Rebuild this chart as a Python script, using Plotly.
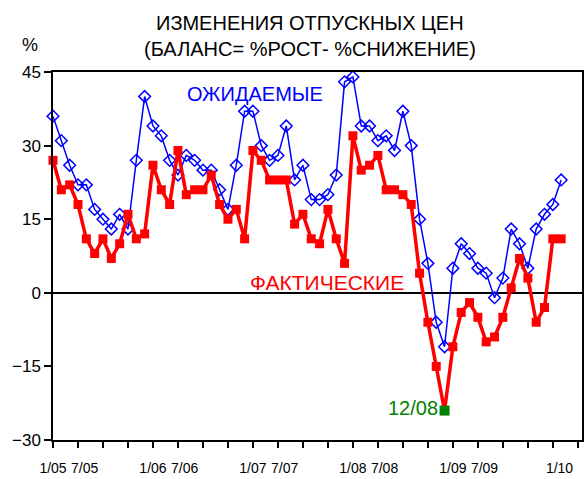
import plotly.graph_objects as go

# month index 0 = 1/05
months = list(range(62))

expected = [36, 31, 26, 22, 22, 17, 15, 13, 16, 13, 27, 40,
            34, 32, 27, 24, 28, 27, 25, 25, 21, 17, 26, 37,
            37, 30, 27, 28, 34, 23, 26, 19, 19, 20, 24, 43,
            44, 34, 34, 31, 32, 29, 37, 30, 15, 6, -6, -11,
            5, 10, 8, 5, 4, -1, 3, 13, 10, 5, 13, 16,
            18, 23]

actual = [27, 21, 22, 18, 11, 8, 11, 7, 10, 16, 11, 12,
          26, 21, 18, 29, 20, 21, 21, 24, 18, 15, 17, 11,
          29, 27, 23, 23, 23, 14, 16, 11, 10, 17, 11, 6,
          32, 25, 26, 28, 21, 21, 20, 18, 4, -6, -15, -24,
          -11, -4, -2, -5, -10, -9, -5, 1, 7, 3, -6, -3,
          11, 11]

low_month = 47  # 12/08
tick_months = list(range(0, 64, 3))
label_months = [0, 3.8, 12, 15.8, 24, 27.8, 36, 39.8, 48, 51.8, 60.8]
label_text = ["1/05", "7/05", "1/06", "7/06", "1/07", "7/07",
              "1/08", "7/08", "1/09", "7/09", "1/10"]

FONT = "Liberation Sans, Arial, sans-serif"

fig = go.Figure()
fig.add_trace(go.Scatter(x=months, y=expected, mode="lines+markers",
                         line=dict(color="#0000ff", width=1.5),
                         marker=dict(symbol="diamond-open", size=9, color="#0000ff",
                                     line=dict(width=1.5)),
                         cliponaxis=False))
fig.add_trace(go.Scatter(x=months, y=actual, mode="lines+markers",
                         line=dict(color="#ff0000", width=3.5),
                         marker=dict(symbol="square", size=9, color="#ff0000"),
                         cliponaxis=False))
fig.add_trace(go.Scatter(x=[months[low_month]], y=[actual[low_month]], mode="markers",
                         marker=dict(symbol="square", size=10, color="#008000"),
                         cliponaxis=False))

fig.add_annotation(x=15.8, y=40.5, text="ОЖИДАЕМЫЕ", showarrow=False, xanchor="left",
                   font=dict(color="#0000ff", size=20, family=FONT))
fig.add_annotation(x=23.4, y=2.0, text="ФАКТИЧЕСКИЕ", showarrow=False, xanchor="left",
                   font=dict(color="#ff0000", size=21, family=FONT))
fig.add_annotation(x=46.5, y=-23.5, text="12/08", showarrow=False, xanchor="right",
                   font=dict(color="#008000", size=20, family=FONT))
fig.add_annotation(x=-0.0435, y=1.073, xref="paper", yref="paper", text="%", showarrow=False,
                   xanchor="center", yanchor="middle",
                   font=dict(color="black", size=18, family=FONT))
fig.add_annotation(x=0.486, y=1.133, xref="paper", yref="paper", showarrow=False,
                   text="ИЗМЕНЕНИЯ ОТПУСКНЫХ ЦЕН", yanchor="middle",
                   font=dict(color="black", size=20, family=FONT))
fig.add_annotation(x=0.486, y=1.0625, xref="paper", yref="paper", showarrow=False,
                   text="(БАЛАНС= %РОСТ- %СНИЖЕНИЕ)", yanchor="middle",
                   font=dict(color="black", size=20, family=FONT))

fig.update_layout(
    width=584, height=479,
    margin=dict(l=53, r=2, t=72, b=39),
    paper_bgcolor="white", plot_bgcolor="white",
    showlegend=False,
    font=dict(family=FONT, size=16, color="black"),
)
fig.update_xaxes(range=[0, 63.5], tickvals=label_months, ticktext=label_text,
                 ticks="", ticklen=0, tickangle=0, tickfont=dict(size=14),
                 ticklabelstandoff=14,
                 minor=dict(tickvals=tick_months, ticks="outside", ticklen=6,
                            tickcolor="black", tickwidth=1.5, showgrid=False),
                 showline=True, linecolor="black", linewidth=1.5, mirror=True,
                 showgrid=False, zeroline=False, automargin=False)
fig.update_yaxes(range=[-30, 45], dtick=15, showline=True, linecolor="black",
                 linewidth=1.5, mirror=True, ticks="outside", ticklen=7, tickwidth=1.5,
                 tickcolor="black", showgrid=False, zeroline=True, tickfont=dict(size=17),
                 zerolinecolor="black", zerolinewidth=1.5, automargin=False)

fig.write_html("out.html", config={"displayModeBar": False},
               post_script="document.body.style.margin='0';")
